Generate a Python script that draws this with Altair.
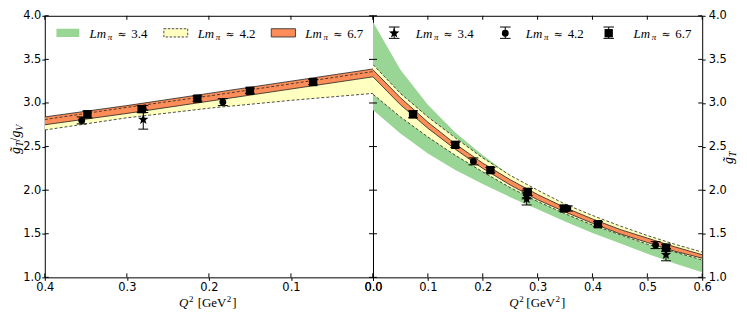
import math
import altair as alt
import pandas as pd

# ---------------- data ----------------
# right panel: g_T(Q^2) bands
band_q2 = [0.00, 0.05, 0.10, 0.15, 0.20, 0.25, 0.30, 0.35, 0.40, 0.45, 0.50, 0.55, 0.60]
green_lo = [2.92, 2.65, 2.42, 2.23, 2.07, 1.92, 1.78, 1.64, 1.51, 1.39, 1.27, 1.16, 1.06]
green_hi = [3.93, 3.38, 2.98, 2.66, 2.40, 2.17, 1.98, 1.81, 1.67, 1.55, 1.44, 1.34, 1.25]
yellow_lo = [3.10, 2.84, 2.61, 2.40, 2.21, 2.03, 1.87, 1.73, 1.60, 1.49, 1.38, 1.29, 1.20]
yellow_hi = [3.44, 3.11, 2.84, 2.60, 2.37, 2.17, 2.00, 1.84, 1.71, 1.59, 1.48, 1.38, 1.29]
orange_lo = [3.30, 2.98, 2.71, 2.47, 2.25, 2.06, 1.89, 1.75, 1.62, 1.50, 1.40, 1.30, 1.22]
orange_hi = [3.38, 3.06, 2.78, 2.53, 2.31, 2.12, 1.95, 1.80, 1.67, 1.55, 1.45, 1.35, 1.26]

# left panel: g_T/g_V bands
ratio_q2 = [0.0, 0.1, 0.2, 0.3, 0.4]
ratio_yellow_lo = [3.11, 3.03, 2.94, 2.83, 2.69]
ratio_yellow_hi = [3.36, 3.22, 3.08, 2.95, 2.81]
ratio_orange_lo = [3.30, 3.16, 3.02, 2.88, 2.75]
ratio_orange_hi = [3.39, 3.25, 3.11, 2.97, 2.84]

# lattice points
sq_q2 = [0.073, 0.150, 0.214, 0.282, 0.348, 0.410, 0.534]
sq_gT = [2.87, 2.52, 2.23, 1.98, 1.79, 1.61, 1.34]
sq_gT_err = [0.04, 0.03, 0.03, 0.04, 0.03, 0.03, 0.04]
sq_ratio = [3.24, 3.14, 3.05, 2.93, 2.87]
sq_ratio_err = [0.03, 0.03, 0.03, 0.04, 0.04]

ci_q2 = [0.183, 0.280, 0.355, 0.515]
ci_gT = [2.33, 1.95, 1.79, 1.37]
ci_gT_err = [0.04, 0.05, 0.03, 0.04]
ci_ratio = [3.01, 2.93, 2.80]
ci_ratio_err = [0.04, 0.04, 0.04]

st_q2 = [0.280, 0.534]
st_gT = [1.90, 1.26]
st_gT_err = [0.07, 0.07]
st_ratio = [2.81]
st_ratio_err = [0.11]

legend_labels = ["3.4", "4.2", "6.7"]
x_ticks_left = [0.0, 0.1, 0.2, 0.3, 0.4]
x_ticks_right = [0.0, 0.1, 0.2, 0.3, 0.4, 0.5, 0.6]
y_ticks = [1.0, 1.5, 2.0, 2.5, 3.0, 3.5, 4.0]

# ---------------- styles ----------------
GREEN = "#99d594"
YELLOW = "#ffffbf"
ORANGE = "#fc8d59"
EDGE = "#222222"
SERIF = "Liberation Serif"
SANS = "DejaVu Sans"
W1, W2, H = 330, 331, 263


def star_path(inner=0.42):
    pts = []
    for k in range(10):
        r = 1.0 if k % 2 == 0 else inner
        a = -math.pi / 2 + k * math.pi / 5
        pts.append(f"{r * math.cos(a):.3f},{r * math.sin(a):.3f}")
    return "M" + "L".join(pts) + "Z"


STAR = star_path()
DUMMY = pd.DataFrame({"_": [0]})


def band_df(q, lo, hi):
    return pd.DataFrame({"q2": q, "lo": lo, "hi": hi})


def pts_df(q, v, e):
    n = len(v)
    return pd.DataFrame({"q2": q[:n], "v": v, "lo": [a - b for a, b in zip(v, e)],
                         "hi": [a + b for a, b in zip(v, e)]})


def txt(s, x, y, size=13, italic=False, angle=0, align="left", font=SERIF):
    kw = dict(text=s, font=font, fontSize=size, align=align, baseline="alphabetic",
              color="black", angle=angle)
    if italic:
        kw["fontStyle"] = "italic"
    return alt.Chart(DUMMY).mark_text(**kw).encode(x=alt.value(x), y=alt.value(y))


def panel(width, xdom, reverse, xticks, bands, points, yorient, legend, extra):
    xs = alt.Scale(domain=xdom, reverse=reverse, nice=False, zero=False)
    ys = alt.Scale(domain=[1.0, 4.0], nice=False, zero=False)
    common = dict(grid=False, domain=False, tickSize=3, tickColor="black", tickWidth=1,
                  labelFont=SANS, labelFontSize=11.5, labelColor="black", labelOverlap=False,
                  title=None, format=".1f")
    xaxis = alt.Axis(orient="bottom", values=xticks, labelFlush=False, labelPadding=1, **common)
    yaxis = alt.Axis(orient=yorient, values=y_ticks, labelPadding=(1 if yorient == "left" else 3), **common)
    X = lambda f: alt.X(f, type="quantitative", scale=xs, axis=xaxis)
    Y = lambda f: alt.Y(f, type="quantitative", scale=ys, axis=yaxis)
    layers = []
    # filled bands
    for df, fill, edge in bands:
        layers.append(alt.Chart(df).mark_area(color=fill, opacity=1, clip=True)
                      .encode(x=X("q2"), y=Y("lo"), y2="hi"))
    # band edges
    for df, fill, edge in bands:
        if edge is None:
            continue
        for f in ["lo", "hi"]:
            kw = dict(color=EDGE, strokeWidth=0.8, clip=True)
            if edge == "dash":
                kw["strokeDash"] = [3, 2]
            layers.append(alt.Chart(df).mark_line(**kw).encode(x=X("q2"), y=Y(f)))
    # points with error bars
    for df, shape, size in points:
        layers.append(alt.Chart(df).mark_rule(color="black", strokeWidth=1)
                      .encode(x=X("q2"), y=Y("lo"), y2="hi"))
        for f in ["lo", "hi"]:
            layers.append(alt.Chart(df).mark_rule(color="black", strokeWidth=1, xOffset=-5, x2Offset=5)
                          .encode(x=X("q2"), x2="q2", y=Y(f)))
        layers.append(alt.Chart(df).mark_point(shape=shape, size=size, filled=True, color="black",
                                               opacity=1).encode(x=X("q2"), y=Y("v")))
    # inward ticks on all four sides
    xt = pd.DataFrame({"t": xticks})
    yt = pd.DataFrame({"t": y_ticks})
    layers.append(alt.Chart(xt).mark_rule(color="black", strokeWidth=1)
                  .encode(x=X("t"), y=alt.value(0), y2=alt.value(4)))
    layers.append(alt.Chart(xt).mark_rule(color="black", strokeWidth=1)
                  .encode(x=X("t"), y=alt.value(H), y2=alt.value(H - 4)))
    layers.append(alt.Chart(yt).mark_rule(color="black", strokeWidth=1)
                  .encode(y=Y("t"), x=alt.value(0), x2=alt.value(4)))
    layers.append(alt.Chart(yt).mark_rule(color="black", strokeWidth=1)
                  .encode(y=Y("t"), x=alt.value(width), x2=alt.value(width - 4)))
    layers += legend
    layers += extra
    return alt.layer(*layers).properties(width=width, height=H)


def legend_label(bx, lab):
    return [txt("Lm", bx, 22, 13, True), txt("π", bx + 18.3, 24.5, 9, True),
            txt("≈", bx + 28, 22, 11, font="DejaVu Serif"),
            txt(lab, bx + 42, 22, 13)]


def x_title(cx, qoff):
    b = H + 30
    x0 = cx - qoff
    x1 = cx - 11.3
    return [txt("Q", x0, b, 13, True), txt("2", x0 + 10, b - 5, 9),
            txt("[GeV", x1, b, 13), txt("2", x1 + 29.3, b - 5, 9), txt("]", x1 + 34.8, b, 13)]


# ---------------- left panel ----------------
left_bands = [
    (band_df(ratio_q2, ratio_yellow_lo, ratio_yellow_hi), YELLOW, "dash"),
    (band_df(ratio_q2, ratio_orange_lo, ratio_orange_hi), ORANGE, "solid"),
]
left_points = [
    (pts_df(ci_q2, ci_ratio, ci_ratio_err), "circle", 48),
    (pts_df(st_q2, st_ratio, st_ratio_err), STAR, 120),
    (pts_df(sq_q2, sq_ratio, sq_ratio_err), "square", 70),
]
left_legend = []
for (x0, x1), fill, kind in zip([(11.7, 34.7), (119.7, 143.7), (227.7, 252.0)],
                                [GREEN, YELLOW, ORANGE], [None, "dash", "solid"]):
    kw = dict(fill=fill, opacity=1)
    if kind is not None:
        kw.update(stroke=EDGE, strokeWidth=0.8)
        if kind == "dash":
            kw["strokeDash"] = [2.5, 1.5]
    left_legend.append(alt.Chart(DUMMY).mark_rect(**kw).encode(
        x=alt.value(x0), x2=alt.value(x1), y=alt.value(13), y2=alt.value(21.3)))
for bx, lab in zip([45, 153.7, 262], legend_labels):
    left_legend += legend_label(bx, lab)

# y title (rotated): g~_T / g_V
yb0 = 139
lx = -25
left_extra = x_title(W1 / 2, 30) + [
    txt("g\u0303", lx, yb0, 14, True, 270),
    txt("T", lx + 3, yb0 - 7, 10, True, 270),
    txt("/", lx, yb0 - 12.6, 14, False, 270),
    txt("g", lx, yb0 - 16.5, 14, True, 270),
    txt("V", lx + 3, yb0 - 23.5, 10, True, 270),
]
left = panel(W1, [0.0, 0.4], True, x_ticks_left, left_bands, left_points, "left",
             left_legend, left_extra)

# ---------------- right panel ----------------
right_bands = [
    (band_df(band_q2, green_lo, green_hi), GREEN, None),
    (band_df(band_q2, yellow_lo, yellow_hi), YELLOW, "dash"),
    (band_df(band_q2, orange_lo, orange_hi), ORANGE, "solid"),
]
right_points = [
    (pts_df(ci_q2, ci_gT, ci_gT_err), "circle", 48),
    (pts_df(sq_q2, sq_gT, sq_gT_err), "square", 70),
    (pts_df(st_q2, st_gT, st_gT_err), STAR, 120),
]
right_legend = []
for cx, shape, size in zip([21.3, 133, 237], [STAR, "circle", "square"], [120, 48, 70]):
    right_legend.append(alt.Chart(DUMMY).mark_rule(color="black", strokeWidth=1).encode(
        x=alt.value(cx), y=alt.value(11.3), y2=alt.value(22.7)))
    for yy in [11.3, 22.7]:
        right_legend.append(alt.Chart(DUMMY).mark_rule(color="black", strokeWidth=1).encode(
            x=alt.value(cx - 5.3), x2=alt.value(cx + 5.3), y=alt.value(yy)))
    right_legend.append(alt.Chart(DUMMY).mark_point(shape=shape, size=size, filled=True,
                                                    color="black", opacity=1).encode(
        x=alt.value(cx), y=alt.value(17.5)))
for bx, lab in zip([43, 153.7, 262], legend_labels):
    right_legend += legend_label(bx, lab)

rx = W2 + 31
rb0 = 149
right_extra = x_title(W2 / 2, 28.5) + [
    txt("g\u0303", rx, rb0, 14, True, 270),
    txt("T", rx + 3, rb0 - 7, 10, True, 270),
]
right = panel(W2, [0.0, 0.6], False, x_ticks_right, right_bands, right_points, "right",
              right_legend, right_extra)

chart = (alt.hconcat(left, right, spacing=0, bounds="flush")
         .properties(padding={"left": 0, "top": 0, "right": 0, "bottom": 0}, background="white")
         .configure_view(stroke="black", strokeWidth=1))

chart.save("out.html", embed_options={"renderer": "svg", "actions": False})
